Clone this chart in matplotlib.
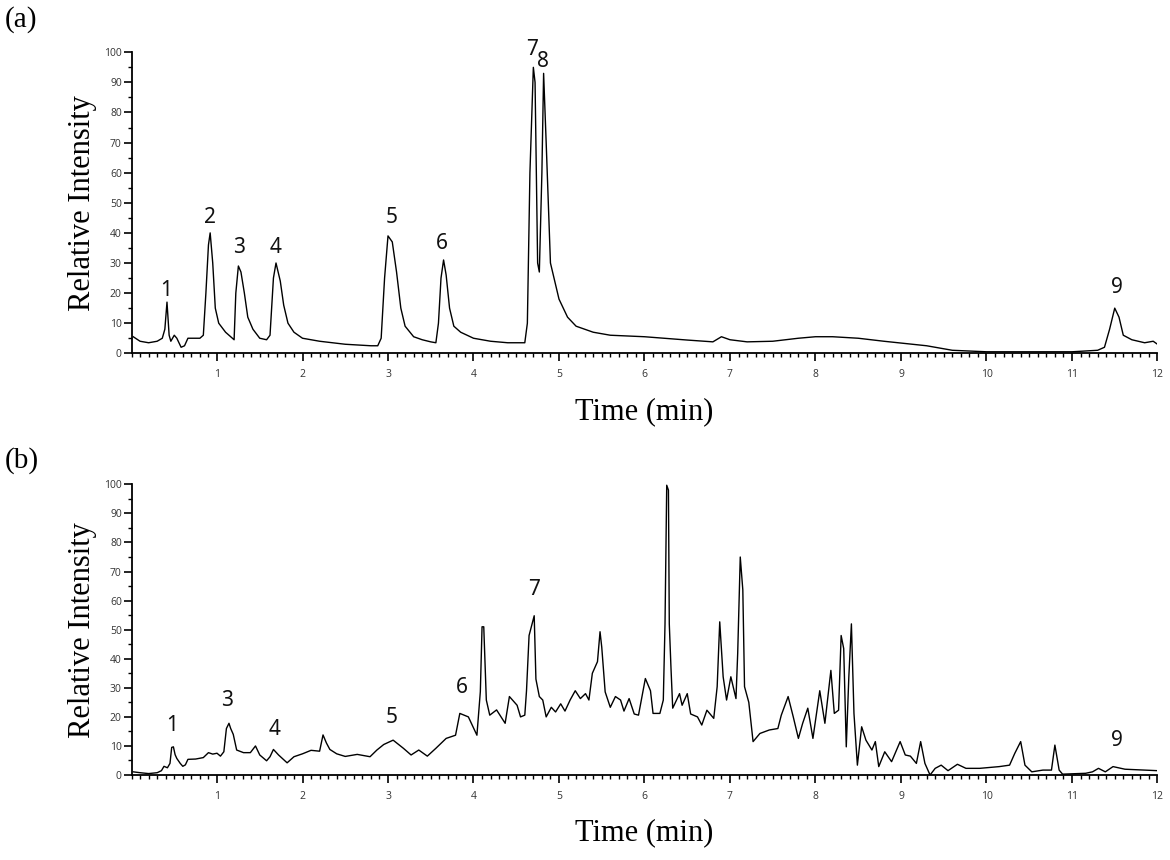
import numpy as np
import matplotlib
matplotlib.use('Agg')
import matplotlib.pyplot as plt
from matplotlib.ticker import MultipleLocator

# chromatogram (a)
t_a = [0.02, 0.1, 0.2, 0.3, 0.36, 0.39, 0.415, 0.44, 0.46, 0.5, 0.53, 0.58, 0.62, 0.66, 0.8,
       0.84, 0.87, 0.9, 0.92, 0.95, 0.98, 1.02, 1.1, 1.18, 1.2, 1.22, 1.25, 1.28, 1.32, 1.36,
       1.42, 1.5, 1.58, 1.62, 1.66, 1.69, 1.74, 1.78, 1.83, 1.9, 2.0, 2.2, 2.5, 2.8, 2.88,
       2.92, 2.96, 3.0, 3.05, 3.1, 3.15, 3.2, 3.3, 3.4, 3.5, 3.56, 3.59, 3.62, 3.65, 3.68,
       3.72, 3.77, 3.85, 4.0, 4.2, 4.4, 4.6, 4.63, 4.66, 4.7, 4.72, 4.75, 4.77, 4.8, 4.82,
       4.85, 4.9, 5.0, 5.1, 5.2, 5.4, 5.6, 6.0, 6.5, 6.8, 6.9, 7.0, 7.2, 7.5, 7.8, 8.0, 8.2,
       8.5, 8.8, 9.0, 9.3, 9.6, 10.0, 10.5, 11.0, 11.3, 11.38, 11.44, 11.5, 11.55, 11.6,
       11.7, 11.85, 11.95, 12.0]
i_a = [5.5, 4, 3.5, 4, 5, 8, 17, 6, 4, 6, 5, 2, 2.5, 5, 5,
       6, 20, 36, 40, 30, 15, 10, 7, 5, 4.5, 20, 29, 27, 20, 12,
       8, 5, 4.5, 6, 25, 30, 24, 16, 10, 7, 5, 4, 3, 2.5, 2.5,
       5, 25, 39, 37, 27, 15, 9, 5.5, 4.5, 3.8, 3.5, 10, 25, 31, 26,
       15, 9, 7, 5, 4, 3.5, 3.5, 10, 60, 95, 90, 30, 27, 60, 93,
       70, 30, 18, 12, 9, 7, 6, 5.5, 4.4, 3.8, 5.5, 4.5, 3.8, 4, 5, 5.5, 5.5,
       5, 4, 3.4, 2.5, 1, 0.5, 0.5, 0.5, 1, 2, 8, 15, 12, 6,
       4.5, 3.5, 4, 3]

# chromatogram (b)
t_b = [0.02, 0.1, 0.2, 0.3, 0.35, 0.38, 0.42, 0.45, 0.47, 0.49, 0.51, 0.53, 0.57, 0.60, 0.63,
       0.66, 0.75, 0.84, 0.90, 0.95, 1.0, 1.04, 1.08, 1.11, 1.14, 1.16, 1.19, 1.23, 1.31, 1.39,
       1.45, 1.50, 1.58, 1.62, 1.66, 1.72, 1.82, 1.90, 2.0, 2.1, 2.2, 2.24, 2.28, 2.32, 2.40,
       2.5, 2.64, 2.79, 2.87, 2.95, 3.06, 3.18, 3.27, 3.36, 3.46, 3.56, 3.68, 3.79, 3.84, 3.94,
       4.04, 4.08, 4.10, 4.12, 4.15, 4.19, 4.27, 4.37, 4.42, 4.51, 4.55, 4.60, 4.62, 4.65, 4.71,
       4.73, 4.77, 4.81, 4.85, 4.91, 4.96, 5.02, 5.07, 5.13, 5.19, 5.25, 5.31, 5.35, 5.39, 5.45,
       5.48, 5.50, 5.54, 5.60, 5.66, 5.72, 5.76, 5.82, 5.88, 5.93, 5.97, 6.01, 6.07, 6.10, 6.18,
       6.22, 6.24, 6.26, 6.28, 6.29, 6.31, 6.33, 6.41, 6.44, 6.50, 6.54, 6.62, 6.67, 6.73, 6.81,
       6.85, 6.88, 6.92, 6.96, 7.01, 7.07, 7.09, 7.12, 7.15, 7.17, 7.22, 7.27, 7.35, 7.46, 7.56,
       7.60, 7.68, 7.74, 7.80, 7.85, 7.91, 7.97, 8.05, 8.11, 8.18, 8.22, 8.27, 8.30, 8.33, 8.36,
       8.39, 8.42, 8.45, 8.49, 8.54, 8.59, 8.66, 8.70, 8.74, 8.81, 8.89, 8.99, 9.05, 9.11, 9.18,
       9.23, 9.28, 9.34, 9.40, 9.47, 9.55, 9.66, 9.76, 9.92, 10.15, 10.27, 10.33, 10.40, 10.45,
       10.53, 10.66, 10.76, 10.80, 10.85, 10.89, 11.16, 11.24, 11.31, 11.39, 11.48, 11.62,
       11.85, 12.0]
i_b = [1.1, 0.8, 0.5, 0.8, 1.5, 3, 2.5, 4, 9.5, 9.7, 7, 5.7, 4, 3, 3.5,
       5.4, 5.5, 6, 7.7, 7.2, 7.5, 6.5, 8, 16, 17.8, 16, 14, 8.6, 7.7, 7.7,
       10, 6.9, 4.9, 6.3, 8.8, 6.9, 4.2, 6.3, 7.3, 8.5, 8.2, 13.8, 11, 8.8, 7.3,
       6.4, 7.1, 6.3, 8.6, 10.5, 12, 9.2, 6.9, 8.6, 6.5, 9.2, 12.6, 13.7, 21.2, 20,
       13.7, 28.7, 51, 51, 25.8, 20.6, 22.4, 17.8, 27, 24, 20, 20.6, 29, 48, 54.8,
       33, 27, 25.8, 20, 23.3, 21.7, 24.5, 22, 25.8, 29, 26.3, 28, 25.8, 35, 39,
       49.3, 44, 28.6, 23.3, 27, 25.8, 22, 26.3, 21, 20.6, 27, 33.2, 29, 21.2, 21.2,
       25.8, 52, 99.7, 98, 52, 36.7, 23, 28, 24, 28, 21, 20, 17.2, 22.3, 19.5,
       30.4, 52.7, 33.8, 25.8, 33.8, 26.3, 41.8, 75, 63.7, 30.4, 25, 11.5, 14.3, 15.5, 16,
       20.6, 27, 20, 12.6, 17.8, 23, 12.6, 29, 17.8, 36, 21.2, 22.3, 48, 43.5, 9.7,
       33.8, 52, 21.2, 3.4, 16.6, 12, 8.6, 11.5, 2.9, 8, 4.6, 11.5, 6.9, 6.5, 4,
       11.5, 4, 0, 2.3, 3.4, 1.5, 3.7, 2.3, 2.3, 2.9, 3.4, 7.4, 11.5, 3.4,
       1.1, 1.7, 1.7, 10.3, 1.7, 0.3, 0.6, 1.1, 2.3, 1.1, 2.9, 2.0,
       1.7, 1.5]

# peak numbers and where they are written
peaks_a = ['1', '2', '3', '4', '5', '6', '7', '8', '9']
lab_a_x = [0.40, 0.92, 1.26, 1.68, 3.04, 3.63, 4.68, 4.81, 11.53]
lab_a_y = [21, 45, 35, 35, 45, 36.6, 101, 97, 21.9]
peaks_b = ['1', '3', '4', '5', '6', '7', '9']
lab_b_x = [0.47, 1.12, 1.67, 3.04, 3.86, 4.71, 11.53]
lab_b_y = [17.2, 25.6, 15.8, 19.7, 30.2, 63.9, 11.8]

serif = 'Liberation Serif'

fig = plt.figure(figsize=(11.7, 8.6), dpi=100)
ax_a = fig.add_axes([0.1124, 0.5892, 0.8769, 0.35])
ax_b = fig.add_axes([0.1124, 0.0988, 0.8769, 0.338])

panels = [(ax_a, t_a, i_a, peaks_a, lab_a_x, lab_a_y),
          (ax_b, t_b, i_b, peaks_b, lab_b_x, lab_b_y)]

for ax, t, y, names, lx, ly in panels:
    ax.plot(t, y, color='black', lw=1.0)
    for n, px, py in zip(names, lx, ly):
        ax.text(px, py, n, ha='center', va='center', fontsize=15,
                family='Noto Sans', color='#111111', clip_on=False)
    ax.set_xlim(0, 12)
    ax.set_ylim(0, 100)
    ax.set_xticks(range(1, 13))
    ax.set_yticks(range(0, 101, 10))
    ax.xaxis.set_minor_locator(MultipleLocator(0.1))
    ax.yaxis.set_minor_locator(MultipleLocator(5))
    ax.tick_params(which='major', direction='out', length=5.5, width=1.2,
                   labelsize=7.5, labelcolor='#333333')
    ax.tick_params(axis='x', which='major', pad=6)
    ax.tick_params(axis='y', which='major', pad=1.5)
    ax.tick_params(which='minor', direction='out', length=3, width=1.0)
    for lab in ax.get_xticklabels() + ax.get_yticklabels():
        lab.set_family('Open Sans')
    ax.spines['top'].set_visible(False)
    ax.spines['right'].set_visible(False)
    ax.spines['left'].set_linewidth(1.3)
    ax.spines['bottom'].set_linewidth(1.3)
    ax.set_ylabel('Relative Intensity', fontsize=22, family=serif, labelpad=5)
    ax.set_xlabel('Time (min)', fontsize=22, family=serif, labelpad=12)

fig.text(0.004, 0.977, '(a)', fontsize=21, family=serif, va='center')
fig.text(0.004, 0.465, '(b)', fontsize=21, family=serif, va='center')

fig.savefig('out.png', dpi=100)
